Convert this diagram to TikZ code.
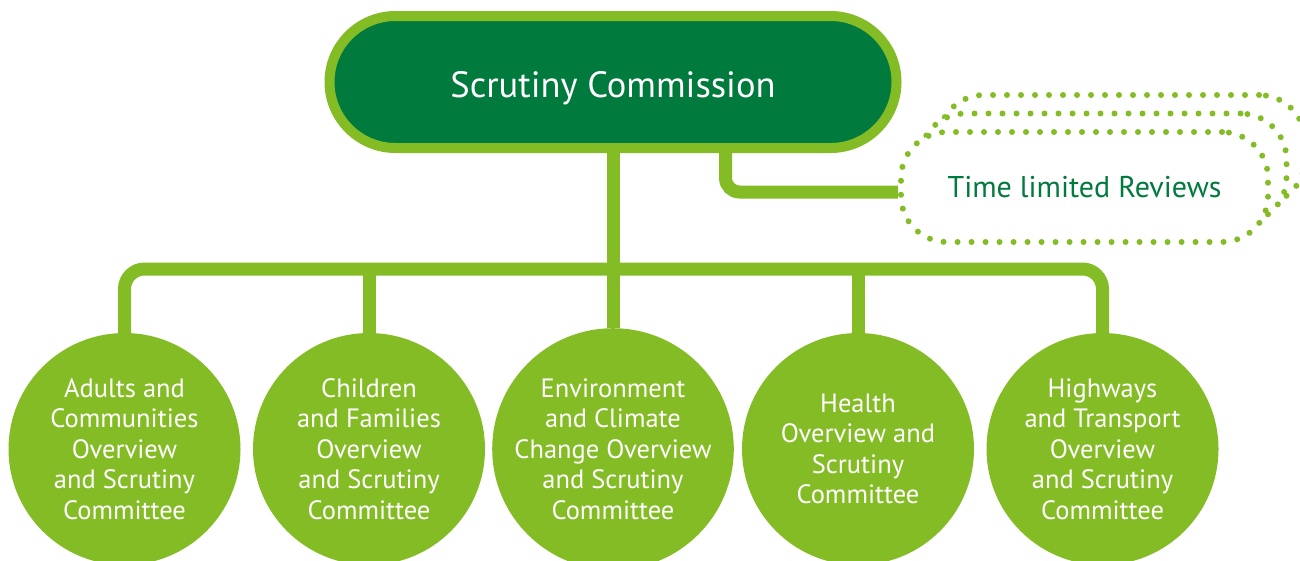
\documentclass[tikz,border=0pt]{standalone}
\usepackage{fontspec}
\setmainfont{PT Sans}
\usepackage{tikz}
\usetikzlibrary{positioning}
\definecolor{commgreen}{HTML}{007A3D}
\definecolor{leafgreen}{HTML}{84BC26}
\tikzstyle{commission}=[draw=leafgreen,line width=10pt,fill=commgreen,rounded corners=66pt,minimum width=567pt,minimum height=132pt,text height=31pt,text depth=0pt,text=white,font=\fontsize{36.5}{42}\selectfont]
\tikzstyle{committee}=[circle,fill=leafgreen,minimum size=232pt,inner sep=0pt,text=white,align=center,font=\fontsize{26.5}{30.5}\selectfont]
\tikzstyle{review}=[draw=leafgreen,fill=white,line width=6pt,dash pattern=on 0pt off 14pt,line cap=round,rounded corners=46pt,minimum width=367pt,minimum height=110pt,text=commgreen,font=\fontsize{30}{34}\selectfont]
\tikzstyle{link}=[draw=leafgreen,line width=13pt]

\begin{document}
\begin{tikzpicture}[x=1pt,y=-1pt]
\useasboundingbox (0,0) rectangle (1300,560);
    \node [commission] (sc) at (613,82) {Scrutiny Commission};
    \node [committee] (c1) at (124.5,449) {Adults and\\Communities\\Overview\\and Scrutiny\\Committee};
    \node [committee] (c2) at (369,449) {Children\\and Families\\Overview\\and Scrutiny\\Committee};
    \node [committee] (c3) at (613,449) {Environment\\and Climate\\Change Overview\\and Scrutiny\\Committee};
    \node [committee] (c4) at (858,449) {Health\\Overview and\\Scrutiny\\Committee};
    \node [committee] (c5) at (1102.5,449) {Highways\\and Transport\\Overview\\and Scrutiny\\Committee};
% stacked reviews, back to front
    \node [review] (rv3) at (1121.5,150) {};
    \node [review] (rv2) at (1103,168.5) {};
    \node [review] (rv1) at (1084.5,187) {Time limited Reviews};
\coordinate (bar) at (613,269);

\draw[link,rounded corners=20pt] (c1.north) -- (c1.north |- bar) -| (c5.north);
\draw[link] (sc.south) -- (c3.north);
\draw[link] (c2.north) -- (c2.north |- bar);
\draw[link] (c4.north) -- (c4.north |- bar);
\draw[link,rounded corners=14pt] ([xshift=112.5pt]sc.south) |- ([yshift=-5pt]rv1.west);
\end{tikzpicture}
\end{document}
